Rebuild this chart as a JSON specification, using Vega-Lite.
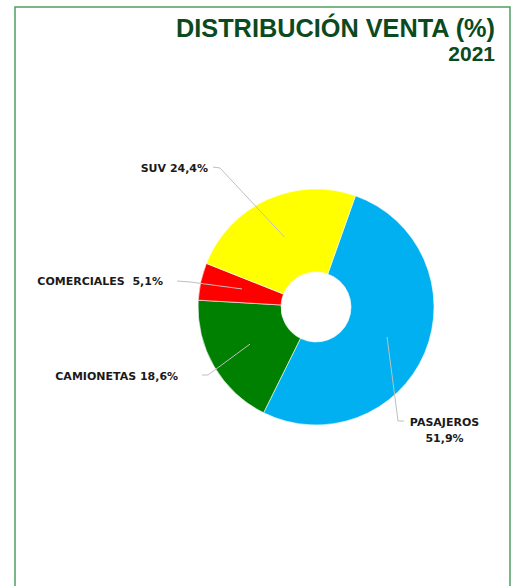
{
  "$schema": "https://vega.github.io/schema/vega-lite/v6.json",
  "width": 495,
  "height": 583,
  "autosize": {"type": "none"},
  "padding": {"left": 15, "top": 7, "right": 3, "bottom": -4},
  "background": "white",
  "config": {"view": {"stroke": "#4f9e5f", "strokeWidth": 1.5}},
  "title": {
    "text": "DISTRIBUCIÓN VENTA (%)",
    "subtitle": "2021",
    "anchor": "end",
    "frame": "group",
    "offset": -58,
    "dx": -15,
    "font": "Liberation Sans",
    "fontSize": 25.3,
    "fontWeight": "bold",
    "color": "#0b4a1e",
    "subtitleFont": "Liberation Sans",
    "subtitleFontSize": 21,
    "subtitleFontWeight": "bold",
    "subtitleColor": "#0b4a1e",
    "subtitlePadding": 2
  },
  "datasets": {
    "ventas": [
      {"categoria": "PASAJEROS", "pct": 51.9, "n": 1, "etiqueta": "PASAJEROS\n51,9%", "lx": 1.089, "ly": 0.979},
      {"categoria": "CAMIONETAS", "pct": 18.6, "n": 2, "etiqueta": "CAMIONETAS 18,6%", "lx": -1.169, "ly": 0.593},
      {"categoria": "COMERCIALES", "pct": 5.1, "n": 3, "etiqueta": "COMERCIALES\u00a0 5,1%", "lx": -1.297, "ly": -0.212},
      {"categoria": "SUV", "pct": 24.4, "n": 4, "etiqueta": "SUV 24,4%", "lx": -0.915, "ly": -1.169}
    ],
    "guias": [
      {"categoria": "SUV", "i": 1, "gx": -0.873, "gy": -1.186},
      {"categoria": "SUV", "i": 2, "gx": -0.814, "gy": -1.178},
      {"categoria": "SUV", "i": 3, "gx": -0.267, "gy": -0.592},
      {"categoria": "COMERCIALES", "i": 1, "gx": -1.178, "gy": -0.22},
      {"categoria": "COMERCIALES", "i": 2, "gx": -1.068, "gy": -0.212},
      {"categoria": "COMERCIALES", "i": 3, "gx": -0.627, "gy": -0.153},
      {"categoria": "CAMIONETAS", "i": 1, "gx": -0.966, "gy": 0.576},
      {"categoria": "CAMIONETAS", "i": 2, "gx": -0.915, "gy": 0.576},
      {"categoria": "CAMIONETAS", "i": 3, "gx": -0.559, "gy": 0.314},
      {"categoria": "PASAJEROS", "i": 1, "gx": 0.746, "gy": 0.966},
      {"categoria": "PASAJEROS", "i": 2, "gx": 0.695, "gy": 0.966},
      {"categoria": "PASAJEROS", "i": 3, "gx": 0.602, "gy": 0.254}
    ]
  },
  "layer": [
    {
      "data": {"name": "ventas"},
      "mark": {"type": "arc", "outerRadius": 118, "innerRadius": 35, "stroke": "white", "strokeWidth": 0.6},
      "encoding": {
        "x": {"datum": 0, "type": "quantitative", "scale": {"domain": [-2.551, 1.644], "nice": false, "zero": false}, "axis": null},
        "y": {"datum": 0, "type": "quantitative", "scale": {"domain": [-2.542, 2.398], "nice": false, "zero": false, "reverse": true}, "axis": null},
        "theta": {"field": "pct", "type": "quantitative", "stack": true, "scale": {"range": [0.3407, 6.6239]}},
        "color": {"field": "categoria", "type": "nominal", "scale": {"domain": ["PASAJEROS", "CAMIONETAS", "COMERCIALES", "SUV"], "range": ["#00b0f0", "#008000", "#ff0000", "#ffff00"]}, "legend": null},
        "order": {"field": "n", "type": "quantitative"}
      }
    },
    {
      "data": {"name": "guias"},
      "mark": {"type": "line", "color": "#bfbfbf", "strokeWidth": 1},
      "encoding": {
        "x": {"field": "gx", "type": "quantitative"},
        "y": {"field": "gy", "type": "quantitative"},
        "detail": {"field": "categoria"},
        "order": {"field": "i", "type": "quantitative"}
      }
    },
    {
      "data": {"name": "ventas"},
      "transform": [{"filter": "datum.categoria != 'PASAJEROS'"}],
      "mark": {"type": "text", "align": "right", "baseline": "middle", "font": "DejaVu Sans", "fontSize": 11, "fontWeight": "bold", "color": "#1a1a1a"},
      "encoding": {
        "x": {"field": "lx", "type": "quantitative"},
        "y": {"field": "ly", "type": "quantitative"},
        "text": {"field": "etiqueta"}
      }
    },
    {
      "data": {"name": "ventas"},
      "transform": [{"filter": "datum.categoria == 'PASAJEROS'"}],
      "mark": {"type": "text", "align": "center", "baseline": "middle", "lineBreak": "\n", "lineHeight": 16, "font": "DejaVu Sans", "fontSize": 11, "fontWeight": "bold", "color": "#1a1a1a"},
      "encoding": {
        "x": {"field": "lx", "type": "quantitative"},
        "y": {"field": "ly", "type": "quantitative"},
        "text": {"field": "etiqueta"}
      }
    }
  ]
}
